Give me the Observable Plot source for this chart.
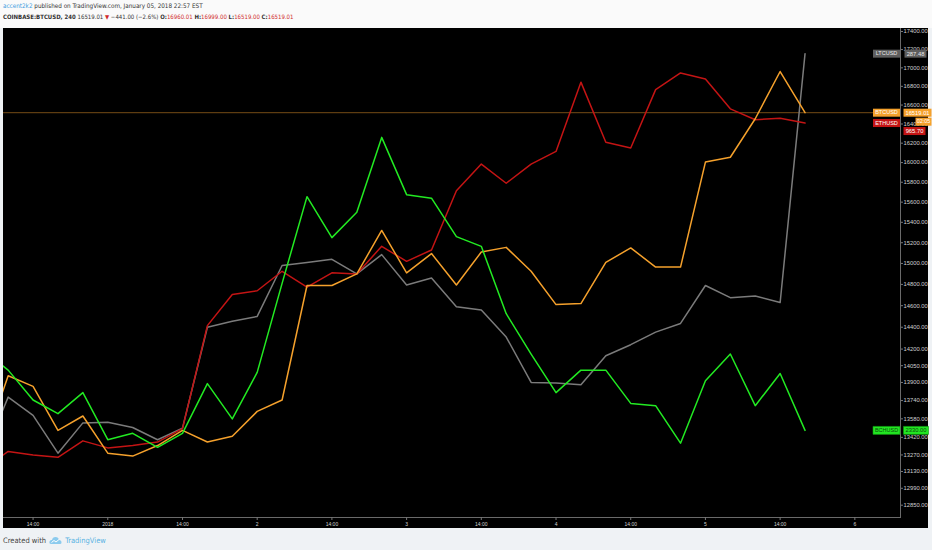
<!DOCTYPE html>
<html>
<head>
<meta charset="utf-8">
<script src="https://cdn.jsdelivr.net/npm/d3@7"></script>
<script src="https://cdn.jsdelivr.net/npm/@observablehq/plot@0.6"></script>
<style>
  body { margin: 0; width: 932px; height: 550px; background: #eff2f5; position: relative; overflow: hidden;
         font-family: "DejaVu Sans Condensed", "Liberation Sans Narrow", Arial, sans-serif; font-stretch: condensed; }
  .top { position: absolute; left: 0; top: 0; width: 932px; height: 28px; background: #fafafa; }
  .line { position: absolute; left: 3px; font-size: 6.3px; color: #333; white-space: nowrap; line-height: 8px; }
  .l1 { top: 2px; }
  .l2 { top: 13px; font-size: 6px; }
  .user { color: #3d9be0; }
  .red { color: #d02a2a; }
  .chart { position: absolute; left: 3px; top: 28px; width: 925px; height: 500px; background: #000; }
  .foot { position: absolute; left: 3px; top: 536px; font-size: 7.5px; color: #444; white-space: nowrap; display: flex; align-items: center; gap: 3px; }
  .foot .tv { color: #5ab2e3; }
</style>
</head>
<body>
<div class="top">
  <div class="line l1"><span class="user">accent2k2</span> published on TradingView.com, January 05, 2018 22:57 EST</div>
  <div class="line l2"><b>COINBASE:BTCUSD, 240</b> 16519.01 <span class="red">▼</span> −441.00 (−2.6%) <b>O:</b><span class="red">16960.01</span> <b>H:</b><span class="red">16999.00</span> <b>L:</b><span class="red">16519.00</span> <b>C:</b><span class="red">16519.01</span></div>
</div>
<div class="chart"></div>
<div class="foot">Created with
  <svg width="13" height="9" viewBox="0 0 13 9"><path d="M2 8 Q0 8 0.5 5.5 Q1 3.5 3 4 Q3.5 1 6.5 1 Q9.5 1 10 4 Q12.5 4 12.5 6.5 Q12.5 8 11 8 Z" fill="#8ccbee"/><path d="M2.5 6.5 L5 4.5 L7 6 L10 3.5" stroke="#fff" stroke-width="1" fill="none"/></svg>
  <span class="tv">TradingView</span></div>
<script>
// 4h bars, Dec 31 -> Jan 5
const times = [
  "2017-12-31T06:00Z","2017-12-31T10:00Z","2017-12-31T14:00Z","2017-12-31T18:00Z","2017-12-31T22:00Z",
  "2018-01-01T02:00Z","2018-01-01T06:00Z","2018-01-01T10:00Z","2018-01-01T14:00Z","2018-01-01T18:00Z","2018-01-01T22:00Z",
  "2018-01-02T02:00Z","2018-01-02T06:00Z","2018-01-02T10:00Z","2018-01-02T14:00Z","2018-01-02T18:00Z","2018-01-02T22:00Z",
  "2018-01-03T02:00Z","2018-01-03T06:00Z","2018-01-03T10:00Z","2018-01-03T14:00Z","2018-01-03T18:00Z","2018-01-03T22:00Z",
  "2018-01-04T02:00Z","2018-01-04T06:00Z","2018-01-04T10:00Z","2018-01-04T14:00Z","2018-01-04T18:00Z","2018-01-04T22:00Z",
  "2018-01-05T02:00Z","2018-01-05T06:00Z","2018-01-05T10:00Z","2018-01-05T14:00Z","2018-01-05T18:00Z"
];

// values on the BTC price scale (compare overlay)
const btc = [13330, 13960, 13865, 13480, 13605,
  13285, 13260, 13350, 13480, 13380, 13430,
  13645, 13745, 14790, 14790, 14900, 15320,
  14910, 15095, 14795, 15110, 15155, 14925,
  14610, 14620, 15010, 15150, 14965, 14965,
  16005, 16055, 16455, 16960.01, 16519.01];
const eth = [13150, 13300, 13270, 13250, 13390,
  13330, 13350, 13380, 13495, 14415, 14705,
  14740, 14925, 14775, 14910, 14900, 15165,
  15020, 15130, 15715, 15985, 15790, 15985,
  16115, 16845, 16210, 16150, 16765, 16945,
  16880, 16560, 16445, 16460, 16410];
const ltc = [13250, 13770, 13610, 13285, 13545,
  13550, 13505, 13400, 13500, 14400, 14455,
  14500, 14980, 15010, 15040, 14900, 15085,
  14795, 14860, 14590, 14560, 14310, 13900,
  13895, 13880, 14140, 14240, 14355, 14435,
  14790, 14675, 14690, 14630, 17155];
const bch = [14190, 14010, 13745, 13625, 13810,
  13400, 13455, 13335, 13455, 13890, 13580,
  13990, 14810, 15655, 15250, 15500, 16260,
  15675, 15640, 15260, 15165, 14525, 14155,
  13810, 14010, 14010, 13715, 13695, 13370,
  13915, 14155, 13695, 13980, 13480];

const symbols = ["LTCUSD", "ETHUSD", "BTCUSD", "BCHUSD"];
const lastPrices = ["287.48", "965.70", "16519.01", "2330.00"];
const countdown = "02:05";

const yTicks = [17400, 17200, 17000, 16800, 16600, 16400, 16200, 16000, 15800, 15600, 15400, 15200, 15000,
  14800, 14600, 14400, 14200, 14050, 13900, 13740, 13580, 13420, 13270, 13130, 12990, 12850];
const xTicks = ["2017-12-31T14:00Z","2018-01-01T02:00Z","2018-01-01T14:00Z","2018-01-02T02:00Z","2018-01-02T14:00Z",
  "2018-01-03T02:00Z","2018-01-03T14:00Z","2018-01-04T02:00Z","2018-01-04T14:00Z","2018-01-05T02:00Z",
  "2018-01-05T14:00Z","2018-01-06T02:00Z"];
const xTickLabels = ["14:00","2018","14:00","2","14:00","3","14:00","4","14:00","5","14:00","6"];

const seriesValues = [ltc, eth, btc, bch];
const rows = symbols.flatMap((s, j) => times.map((t, i) => ({time: new Date(t), symbol: s, value: seriesValues[j][i]})));
const lastRows = symbols.map((s, j) => ({symbol: s, value: seriesValues[j][times.length - 1], price: lastPrices[j]}));
const xLabelOf = new Map(xTicks.map((t, i) => [+new Date(t), xTickLabels[i]]));

// rectangle symbol for the price tags
const box = (w, h) => ({draw(ctx) { ctx.rect(-w / 2, -h / 2, w, h); }});

const tagStyle = {
  LTCUSD: {bg: "#5e5e5e", fg: "#e8e8e8", w: 22, dx: 15, dy: 0},
  ETHUSD: {bg: "#c41414", fg: "#ffffff", w: 22, dx: 14, dy: 8},
  BTCUSD: {bg: "#f5a12c", fg: "#ffffff", w: 28, dx: 17, dy: 0},
  BCHUSD: {bg: "#22e622", fg: "#0c4a0c", w: 25, dx: 15.5, dy: 0, border: "#119911"}
};

const tagMarks = lastRows.flatMap(r => {
  const st = tagStyle[r.symbol];
  return [
    Plot.dot([r], {y: "value", frameAnchor: "right", dx: -14, r: 3, symbol: box(27, 8), fill: st.bg, stroke: st.border, strokeWidth: 0.6}),
    Plot.text([r], {y: "value", frameAnchor: "right", textAnchor: "middle", dx: -14, text: "symbol", fill: st.fg, fontSize: 5.5}),
    Plot.dot([r], {y: "value", frameAnchor: "right", dx: st.dx, dy: st.dy, r: 3, symbol: box(st.w, 8), fill: st.bg, stroke: st.border, strokeWidth: 0.6}),
    Plot.text([r], {y: "value", frameAnchor: "right", textAnchor: "middle", dx: st.dx, dy: st.dy, text: "price", fill: st.fg, fontSize: 5.8})
  ];
});
const btcLast = lastRows.find(r => r.symbol === "BTCUSD");

document.querySelector(".chart").append(
  Plot.plot({
    width: 925,
    height: 500,
    marginTop: 0,
    marginLeft: 0,
    marginRight: 28,
    marginBottom: 11,
    style: {background: "#000", color: "#cccccc", fontFamily: "Arial, 'Liberation Sans', sans-serif", overflow: "visible"},
    x: {type: "utc", domain: [new Date("2017-12-31T09:15Z"), new Date("2018-01-06T09:20Z")], axis: null},
    y: {type: "log", domain: [12850, 17400], range: [476.7, 3], axis: null},
    color: {domain: symbols, range: ["#7b7b7b", "#c41414", "#f5a12c", "#22ea22"]},
    marks: [
      Plot.frame({anchor: "bottom", stroke: "#6a6a6a"}),
      Plot.frame({anchor: "right", stroke: "#6a6a6a"}),
      Plot.axisX(xTicks.map(t => new Date(t)), {label: null, tickFormat: d => xLabelOf.get(+d), tickSize: 3, tickPadding: 1.5, fontSize: 5, stroke: "#777", fill: "#d0d0d0"}),
      Plot.axisY(yTicks, {anchor: "right", label: null, tickFormat: d => d.toFixed(2), tickSize: 2, tickPadding: 1, fontSize: 5.8, stroke: "#777", fill: "#d0d0d0"}),
      Plot.ruleY([btcLast.value], {stroke: "#f5a12c", strokeOpacity: 0.6, strokeWidth: 0.8}),
      Plot.line(rows, {x: "time", y: "value", z: "symbol", stroke: "symbol", strokeWidth: 1.5, clip: true}),
      ...tagMarks,
      Plot.dot([btcLast], {y: "value", frameAnchor: "right", dx: 23, dy: 9, r: 3, symbol: box(16, 8), fill: "#f5a12c"}),
      Plot.text([btcLast], {y: "value", frameAnchor: "right", textAnchor: "middle", dx: 23, dy: 9, text: () => countdown, fill: "#ffffff", fontSize: 5.5})
    ]
  })
);
</script>
</body>
</html>
